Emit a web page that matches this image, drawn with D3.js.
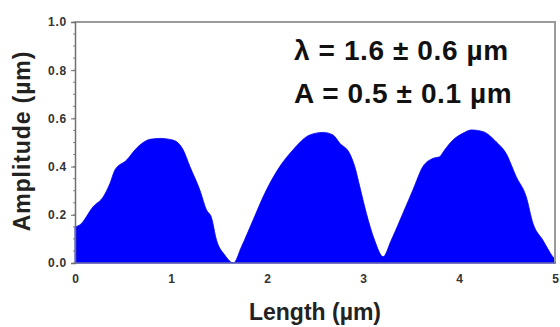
<!DOCTYPE html>
<html>
<head>
<meta charset="utf-8">
<script src="https://cdn.jsdelivr.net/npm/d3@7/dist/d3.min.js"></script>
<style>
  html, body { margin: 0; padding: 0; background: #fff; }
  svg { display: block; }
  text { font-family: "Liberation Sans", Arial, sans-serif; }
</style>
</head>
<body>
<svg id="chart" width="560" height="327"></svg>
<script>
// Surface profile: position along the length and measured amplitude (µm)
const lengthUm = [0, 0.05, 0.19, 0.295, 0.364, 0.416, 0.538, 0.64, 0.78, 0.885, 1.02, 1.127, 1.197, 1.30, 1.37, 1.42, 1.474, 1.56, 1.65,
  1.735, 1.855, 1.977, 2.133, 2.27, 2.445, 2.584, 2.688, 2.758, 2.86, 2.914, 2.966, 3.035, 3.12, 3.21,
  3.295, 3.416, 3.52, 3.624, 3.728, 3.798, 3.85, 3.937, 4.04, 4.128, 4.25, 4.387, 4.49, 4.596, 4.70, 4.77, 4.873, 4.977, 5.0];
const amplitudeUm = [0.15, 0.158, 0.234, 0.275, 0.33, 0.386, 0.427, 0.476, 0.513, 0.517, 0.51, 0.469, 0.40, 0.303, 0.22, 0.19, 0.095, 0.033, 0.0,
  0.068, 0.178, 0.289, 0.40, 0.469, 0.531, 0.542, 0.531, 0.497, 0.455, 0.40, 0.317, 0.206, 0.095, 0.026,
  0.095, 0.206, 0.303, 0.40, 0.434, 0.441, 0.469, 0.51, 0.538, 0.552, 0.545, 0.503, 0.455, 0.358, 0.275, 0.165, 0.095, 0.026, 0.015];

const xTicks = [0, 1, 2, 3, 4, 5];
const yTicks = [0, 0.2, 0.4, 0.6, 0.8, 1.0];
const yMinorTicks = d3.range(0, 1.0001, 0.05);

const annotations = ["λ = 1.6 ± 0.6 µm", "A = 0.5 ± 0.1 µm"];

const svg = d3.select("#chart");
const plotLeft = 75, plotRight = 555, plotTop = 22, plotBottom = 263;

const x = d3.scaleLinear().domain([0, 5]).range([plotLeft, plotRight]);
const y = d3.scaleLinear().domain([0, 1]).range([plotBottom, plotTop]);

const points = lengthUm.map((d, i) => ({ x: d, y: amplitudeUm[i] }));

// filled profile
svg.append("path")
  .datum(points)
  .attr("fill", "#0000ff")
  .attr("stroke", "#0000ee")
  .attr("stroke-width", 0.8)
  .attr("d", d3.area()
    .x(d => x(d.x))
    .y0(y(0))
    .y1(d => y(d.y))
    .curve(d3.curveMonotoneX));

// frame: top and right edges
svg.append("path")
  .attr("d", `M${plotLeft},${plotTop}H${plotRight}V${plotBottom}`)
  .attr("fill", "none")
  .attr("stroke", "#9a9a9a")
  .attr("stroke-width", 2);

// bottom axis line
svg.append("line")
  .attr("x1", plotLeft).attr("x2", plotRight + 1)
  .attr("y1", plotBottom).attr("y2", plotBottom)
  .attr("stroke", "#6a6ab0").attr("stroke-width", 1.5);

// left axis with major and minor ticks
const yAxisG = svg.append("g").attr("transform", `translate(${plotLeft},0)`);
yAxisG.selectAll("line.minor")
  .data(yMinorTicks)
  .join("line")
  .attr("class", "minor")
  .attr("x1", -2).attr("x2", 0)
  .attr("y1", d => y(d)).attr("y2", d => y(d))
  .attr("stroke", "#888").attr("stroke-width", 1);

const yAxis = d3.axisLeft(y).tickValues(yTicks).tickFormat(d3.format(".1f")).tickSize(4).tickPadding(4);
yAxisG.call(yAxis);
yAxisG.select(".domain").attr("stroke", "#707070").attr("stroke-width", 1.5);
yAxisG.selectAll(".tick line").attr("stroke", "#707070");
yAxisG.selectAll(".tick text")
  .attr("font-size", 12).attr("font-weight", "bold").attr("fill", "#333")
  .attr("letter-spacing", 0.8)
  .attr("font-family", "'Liberation Sans', Arial, sans-serif");

// bottom tick labels
const xAxisG = svg.append("g").attr("transform", `translate(0,${plotBottom})`);
const xAxis = d3.axisBottom(x).tickValues(xTicks).tickFormat(d3.format("d")).tickSize(0).tickPadding(11);
xAxisG.call(xAxis);
xAxisG.select(".domain").remove();
xAxisG.selectAll(".tick text")
  .attr("font-size", 12).attr("font-weight", "bold").attr("fill", "#333")
  .attr("font-family", "'Liberation Sans', Arial, sans-serif");

// axis titles
svg.append("text")
  .attr("x", 315).attr("y", 320)
  .attr("text-anchor", "middle")
  .attr("font-size", 23).attr("font-weight", "bold").attr("fill", "#222")
  .text("Length (µm)");

svg.append("text")
  .attr("transform", "translate(30,141) rotate(-90)")
  .attr("text-anchor", "middle")
  .attr("font-size", 23).attr("font-weight", "bold").attr("fill", "#222")
  .attr("letter-spacing", 0.9)
  .text("Amplitude (µm)");

// annotation block
svg.selectAll("text.note")
  .data(annotations)
  .join("text")
  .attr("class", "note")
  .attr("x", 294)
  .attr("y", (d, i) => 60 + i * 43)
  .attr("font-size", 28).attr("font-weight", "bold").attr("fill", "#111")
  .attr("letter-spacing", 0.6)
  .text(d => d);
</script>
</body>
</html>
